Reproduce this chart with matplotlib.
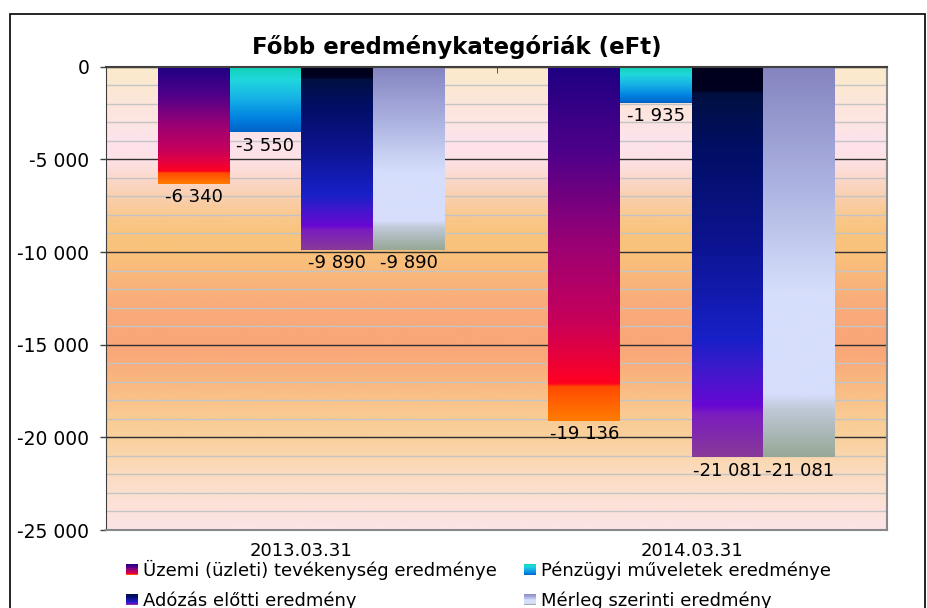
import numpy as np
import matplotlib.pyplot as plt
from matplotlib.colors import LinearSegmentedColormap
from matplotlib.patches import Rectangle
from matplotlib.legend_handler import HandlerBase
from matplotlib.ticker import FuncFormatter, MultipleLocator

# adatok
categories = ['2013.03.31', '2014.03.31']
series_names = ['Üzemi (üzleti) tevékenység eredménye',
                'Pénzügyi műveletek eredménye',
                'Adózás előtti eredmény',
                'Mérleg szerinti eredmény']
uzemi = [-6340, -19136]
penzugyi = [-3550, -1935]
adozas_elotti = [-9890, -21081]
merleg = [-9890, -21081]
values = [uzemi, penzugyi, adozas_elotti, merleg]

# színátmenetek (felülről lefelé)
grad_stops = [
    [(0.0, '#1E0082'), (0.25, '#50008A'), (0.5, '#9A0074'), (0.72, '#C8005A'),
     (0.82, '#E8003C'), (0.895, '#FF0020'), (0.905, '#FF4A00'), (1.0, '#FF7C00')],
    [(0.0, '#10D2B4'), (0.2, '#20D8DC'), (0.5, '#16B0E6'), (0.8, '#0080E0'),
     (1.0, '#0062C8')],
    [(0.0, '#00001C'), (0.06, '#000020'), (0.07, '#001040'), (0.2, '#000E62'),
     (0.45, '#0C1490'), (0.7, '#1820C8'), (0.78, '#4018CC'), (0.87, '#6808D4'),
     (0.89, '#7A1CC0'), (1.0, '#883A98')],
    [(0.0, '#8484C0'), (0.3, '#ACB2E0'), (0.52, '#CED6F6'), (0.58, '#D6DEFC'),
     (0.84, '#D6DEFC'), (0.88, '#C0C8D8'), (1.0, '#96A896')],
]
cmaps = [LinearSegmentedColormap.from_list(f'g{i}', s) for i, s in enumerate(grad_stops)]

bg_colors = ['#FBEACB', '#FCE8D2', '#FDE6DC', '#FDE5E2', '#FDE3EC', '#FDE2E6',
             '#FCD8CC', '#FAD0B0', '#F9C890', '#F9C47C', '#F9C27C', '#F9BA7A',
             '#F9B27A', '#F9AC7A', '#F9A87A', '#F9A678', '#F9AC7A', '#F9B880',
             '#F9C28A', '#F9CC94', '#F9D09C', '#FAD6AC', '#FBDCC0', '#FCE0D0',
             '#FCE2DC', '#FCE4E6']
bg_cmap = LinearSegmentedColormap.from_list('bg', bg_colors)


def fmt_num(v):
    return f"{v:,.0f}".replace(',', ' ')


class GradientHandler(HandlerBase):
    def create_artists(self, legend, orig_handle, xdescent, ydescent,
                       width, height, fontsize, trans):
        n = 16
        parts = []
        for i in range(n):
            y0 = -ydescent + height * (1 - (i + 1) / n)
            parts.append(Rectangle((-xdescent, y0), width, height / n,
                                   facecolor=orig_handle.cmap((i + 0.5) / n),
                                   edgecolor='none', transform=trans))
        return parts


plt.rcParams['font.family'] = 'DejaVu Sans'
W, H = 927, 608
fig = plt.figure(figsize=(W / 100, H / 100), dpi=100)
ax = fig.add_axes([106 / W, 1 - 530 / H, (887 - 106) / W, (530 - 66.7) / H])

ymin, ymax = -25000, 0
xlim = (-0.5, len(categories) - 0.5)

# háttér
ax.imshow(np.linspace(0, 1, 256).reshape(-1, 1), cmap=bg_cmap, aspect='auto',
          extent=(xlim[0], xlim[1], ymin, ymax), origin='upper', zorder=0)

x = np.arange(len(categories))
w = 0.1836
offsets = (np.arange(4) - 1.5) * w
for k in range(4):
    bars = ax.bar(x + offsets[k], values[k], w, color='none', zorder=2)
    for p in bars.patches:
        x0, h = p.get_x(), p.get_height()
        ax.imshow(np.linspace(0, 1, 256).reshape(-1, 1), cmap=cmaps[k],
                  aspect='auto', origin='upper',
                  extent=(x0, x0 + p.get_width(), h, 0), zorder=2)
    ax.bar_label(bars, labels=[fmt_num(v) for v in values[k]], padding=3,
                 fontsize=13, zorder=3)

ax.set_xlim(*xlim)
ax.set_ylim(ymin, ymax)

# rácsvonalak
ax.yaxis.set_major_locator(MultipleLocator(5000))
ax.yaxis.set_minor_locator(MultipleLocator(1000))
ax.set_axisbelow(True)
ax.grid(axis='y', which='minor', color='#C4C4C4', lw=1)
ax.grid(axis='y', which='major', color='#303030', lw=1)
ax.yaxis.set_major_formatter(FuncFormatter(lambda v, p: fmt_num(v)))
ax.tick_params(axis='y', which='major', labelsize=13.5, length=4.5, width=1,
               color='#404040', pad=7.5)
ax.tick_params(axis='y', which='minor', length=0)

ax.set_xticks(x)
ax.set_xticklabels(categories)
ax.set_xticks([-0.5, 0.5, 1.5], minor=True)
ax.tick_params(axis='x', which='major', length=0, labelsize=13, pad=9)
ax.tick_params(axis='x', which='minor', bottom=False, top=True, direction='in',
               length=4, color='#404040')

ax.spines['left'].set_color('#404040')
ax.spines['top'].set_color('#404040')
ax.spines['top'].set_linewidth(1.5)
ax.spines['right'].set_color('#888888')
ax.spines['right'].set_linewidth(1.5)
ax.spines['bottom'].set_color('#888888')
ax.spines['bottom'].set_linewidth(1.5)

fig.text(457 / W, 1 - 54.3 / H, 'Főbb eredménykategóriák (eFt)',
         ha='center', va='baseline', fontsize=16.5, fontweight='bold')

# jelmagyarázat
handles = []
for cm in cmaps:
    r = Rectangle((0, 0), 1, 1)
    r.cmap = cm
    handles.append(r)
order = [0, 2, 1, 3]
fig.legend([handles[i] for i in order], [series_names[i] for i in order],
           handler_map={h: GradientHandler() for h in handles},
           loc='upper left', bbox_to_anchor=(126 / W, 1 - 560 / H), ncol=2,
           frameon=False, fontsize=13, handlelength=0.65, handleheight=0.6,
           handletextpad=0.3, columnspacing=1.5, labelspacing=0.62,
           borderpad=0, borderaxespad=0)

# külső keret
fig.patches.append(Rectangle((10 / W, -0.02), (925 - 10) / W, 1.02 - 14 / H,
                             transform=fig.transFigure, fill=False,
                             edgecolor='black', lw=1.2))

fig.savefig('out.png', dpi=100)
